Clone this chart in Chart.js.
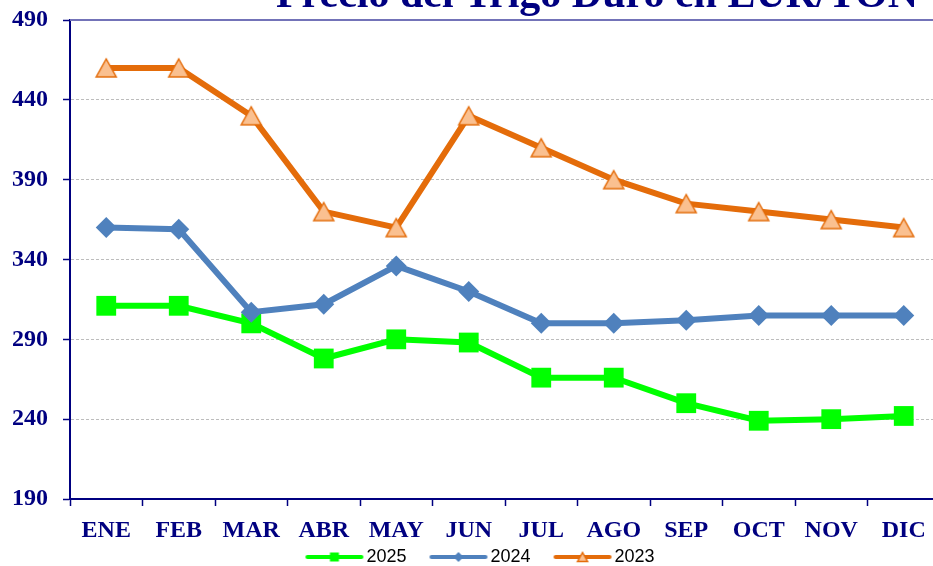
<!DOCTYPE html>
<html>
<head>
<meta charset="utf-8">
<script src="https://cdn.jsdelivr.net/npm/chart.js@4"></script>
<style>
  html, body { margin: 0; padding: 0; background: #fff; overflow: hidden; }
  #wrap { width: 962px; height: 589px; position: relative; }
</style>
</head>
<body>
<div id="wrap"><canvas id="chart-canvas"></canvas></div>
<script>
const chart = document.getElementById("chart-canvas");

// Data (EUR/TON)
const months = ['ENE', 'FEB', 'MAR', 'ABR', 'MAY', 'JUN', 'JUL', 'AGO', 'SEP', 'OCT', 'NOV', 'DIC'];
const seriesNames = ['2025', '2024', '2023'];
const p2025 = [311, 311, 300, 278, 290, 288, 266, 266, 250, 239, 240, 242];
const p2024 = [360, 359, 307, 312, 336, 320, 300, 300, 302, 305, 305, 305];
const p2023 = [460, 460, 430, 370, 360, 430, 410, 390, 375, 370, 365, 360];
const yMin = 190, yMax = 490, yStep = 50;
const titleText = 'Precio del Trigo Duro en EUR/TON';
// ======================

const navy = '#000080';
const green = '#00ff00';
const blue = '#4f81bd';
const orange = '#e46c0a';
const orangeFill = '#fac090';

// draw a marker centred on cx, cy with half-size s
function drawMark(ctx, kind, cx, cy, s, fill, stroke) {
  ctx.beginPath();
  if (kind === 'square') {
    ctx.rect(cx - s, cy - s, 2 * s, 2 * s);
  } else if (kind === 'diamond') {
    ctx.moveTo(cx, cy - s);
    ctx.lineTo(cx + s, cy);
    ctx.lineTo(cx, cy + s);
    ctx.lineTo(cx - s, cy);
    ctx.closePath();
  } else {
    ctx.moveTo(cx, cy - s * 0.9);
    ctx.lineTo(cx + s, cy + s * 0.9);
    ctx.lineTo(cx - s, cy + s * 0.9);
    ctx.closePath();
  }
  ctx.fillStyle = fill;
  ctx.fill();
  if (stroke) {
    ctx.lineWidth = 1.5;
    ctx.strokeStyle = stroke;
    ctx.stroke();
  }
}

function triangleImage() {
  const c = document.createElement('canvas');
  c.width = 24; c.height = 22;
  drawMark(c.getContext('2d'), 'triangle', 12, 11, 10, orangeFill, orange);
  return c;
}

// legend sample: line with marker, drawn wider than the box so items sit further apart
function legendIcon(color, kind, fill, stroke, s) {
  const c = document.createElement('canvas');
  c.width = 84; c.height = 14;
  const ctx = c.getContext('2d');
  ctx.strokeStyle = color;
  ctx.lineWidth = 4;
  ctx.lineCap = 'round';
  ctx.beginPath();
  ctx.moveTo(27, 7);
  ctx.lineTo(81, 7);
  ctx.stroke();
  drawMark(ctx, kind, 54, 7, s, fill, stroke);
  return c;
}

const legendIcons = [
  legendIcon(green, 'square', green, null, 4.5),
  legendIcon(blue, 'diamond', blue, null, 5),
  legendIcon(orange, 'triangle', orangeFill, orange, 5)
];

const frame = {
  id: 'frame',
  afterLayout(c) {
    // nudge the legend to where it sits in the original
    c.legend.left += 1;
    c.legend.right += 1;
    c.legend.top -= 13;
    c.legend.bottom -= 13;
  },
  beforeDatasetsDraw(c) {
    const {ctx, chartArea} = c;
    ctx.save();
    ctx.strokeStyle = '#7373b8';
    ctx.lineWidth = 2;
    ctx.beginPath();
    ctx.moveTo(chartArea.left, chartArea.top);
    ctx.lineTo(chartArea.right, chartArea.top);
    ctx.stroke();
    ctx.restore();
  },
  afterDraw(c) {
    const ctx = c.ctx;
    ctx.save();
    ctx.font = 'bold 42px "Liberation Serif"';
    ctx.fillStyle = navy;
    ctx.textAlign = 'right';
    ctx.textBaseline = 'alphabetic';
    ctx.fillText(titleText, 918, 7);
    ctx.restore();
  }
};

const chartData = {
  labels: months,
  datasets: [{
    label: seriesNames[0],
    data: p2025,
    borderColor: green,
    backgroundColor: green,
    borderWidth: 6,
    pointStyle: 'rect',
    pointRadius: 14,
    pointBorderWidth: 0,
    order: 2
  },
  {
    label: seriesNames[1],
    data: p2024,
    borderColor: blue,
    backgroundColor: blue,
    borderWidth: 6,
    pointStyle: 'rectRot',
    pointRadius: 10.5,
    pointBorderWidth: 0,
    order: 1
  },
  {
    label: seriesNames[2],
    data: p2023,
    borderColor: orange,
    backgroundColor: orangeFill,
    borderWidth: 6,
    pointStyle: triangleImage(),
    order: 0
  }]
};

const options = {
  responsive: true,
  maintainAspectRatio: false,
  animation: false,
  layout: { padding: { top: 20, right: 22, left: 0, bottom: 0 } },
  elements: { line: { tension: 0 } },
  plugins: {
    tooltip: { enabled: false },
    legend: {
      position: 'bottom',
      labels: {
        usePointStyle: true,
        pointStyleWidth: 70,
        padding: 5,
        color: '#000',
        font: { family: '"Liberation Sans", Arial, sans-serif', size: 18 },
        generateLabels(c) {
          return Chart.defaults.plugins.legend.labels.generateLabels(c)
            .sort((a, b) => a.datasetIndex - b.datasetIndex)
            .map((l) => ({ ...l, pointStyle: legendIcons[l.datasetIndex] }));
        }
      }
    }
  },
  scales: {
    x: {
      offset: true,
      grid: {
        offset: true,
        drawOnChartArea: false,
        tickLength: 7,
        tickColor: navy,
        tickWidth: 1.5
      },
      border: { color: navy, width: 2 },
      ticks: {
        color: navy,
        padding: 13,
        maxRotation: 0,
        font: { family: '"Liberation Serif", serif', size: 24, weight: 'bold', lineHeight: 1 }
      }
    },
    y: {
      min: yMin,
      max: yMax,
      afterFit(scale) {
        scale.width = 70;
        scale.paddingTop = 0;
        scale.paddingBottom = 0;
      },
      grid: {
        color: '#bdbdbd',
        tickLength: 7,
        tickColor: navy,
        tickWidth: 1.5
      },
      border: { color: navy, width: 2, dash: [3, 2] },
      ticks: {
        stepSize: yStep,
        color: navy,
        padding: 15,
        font: { family: '"Liberation Serif", serif', size: 24, weight: 'bold' }
      }
    }
  }
};

new Chart(chart, {
  type: 'line',
  data: chartData,
  options: options,
  plugins: [frame]
});
</script>
</body>
</html>
